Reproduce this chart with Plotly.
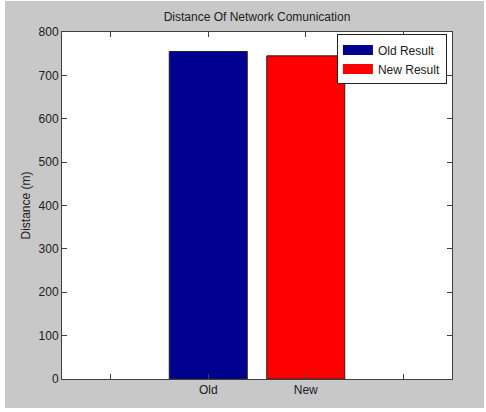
import plotly.graph_objects as go

categories = ["Old", "New"]
series_names = ["Old Result", "New Result"]
values = [755, 745]
colors = ["#00008f", "#ff0000"]
y_ticks = [0, 100, 200, 300, 400, 500, 600, 700, 800]

positions = [i + 1 for i in range(len(categories))]
tickvals = [0] + positions + [len(categories) + 1]
ticktext = [""] + categories + [""]

fig = go.Figure()
for i, (cat, val) in enumerate(zip(categories, values)):
    fig.add_trace(go.Bar(
        x=[positions[i]], y=[val], width=0.8,
        marker=dict(color=colors[i], line=dict(color="#202020", width=1)),
        showlegend=False, name=series_names[i],
    ))
for name, c in zip(series_names, colors):
    fig.add_trace(go.Scatter(
        x=[None], y=[None], mode="lines", name=name,
        line=dict(color=c, width=13), showlegend=True,
    ))

font = "Liberation Sans, Arial, sans-serif"
axis_common = dict(
    showline=True, linecolor="#404040", linewidth=1, mirror="ticks",
    ticks="inside", ticklen=5, tickcolor="#404040", tickwidth=1,
    showgrid=False, zeroline=False,
    tickfont=dict(family=font, size=12, color="#202020"),
)

fig.update_layout(
    width=486, height=412,
    margin=dict(l=62, r=34, t=32, b=33),
    paper_bgcolor="white", plot_bgcolor="white",
    title=dict(text="Distance Of Network Comunication", x=0.5, xref="paper",
               xanchor="center", y=1, yref="paper", yanchor="bottom",
               pad=dict(b=11),
               font=dict(family=font, size=12, color="#202020")),
    xaxis=dict(range=[-0.5, len(categories) + 1.5], tickvals=tickvals,
               ticktext=ticktext, **axis_common),
    yaxis=dict(range=[0, 800], tickvals=y_ticks,
               title=dict(text="Distance (m)", font=dict(family=font, size=12, color="#202020"),
                          standoff=5),
               **axis_common),
    legend=dict(x=0.987, y=0.993, xanchor="right", yanchor="top",
                bgcolor="white", bordercolor="#202020", borderwidth=1,
                font=dict(family=font, size=12, color="#202020"),
                tracegroupgap=0, itemwidth=30),
    bargap=0.2,
    shapes=[
        dict(type="rect", xref="paper", yref="paper", layer="below",
             x0=(5 - 62) / 390, x1=(484 - 62) / 390,
             y0=(379 - 408) / 347, y1=(379 - 1) / 347,
             fillcolor="#c8c8c8", line=dict(width=0)),
        dict(type="rect", xref="paper", yref="paper", layer="below",
             x0=0, x1=1, y0=0, y1=1,
             fillcolor="white", line=dict(width=0)),
    ],
)

fig.write_html("out.html")
